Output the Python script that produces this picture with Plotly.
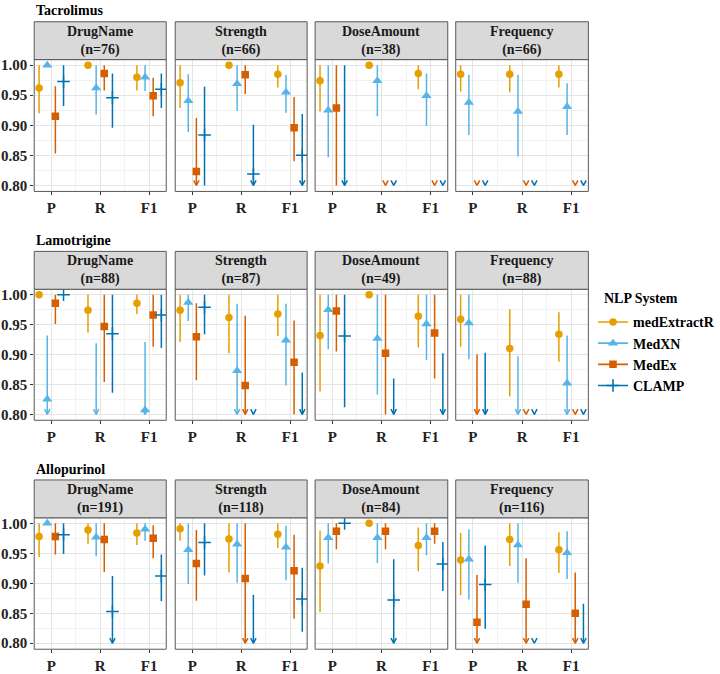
import plotly.graph_objects as go

# ---------------- data ----------------
DRUGS = ["Tacrolimus", "Lamotrigine", "Allopurinol"]
FIELDS = ["DrugName", "Strength", "DoseAmount", "Frequency"]
METRICS = ["P", "R", "F1"]
SYSTEMS = ["medExtractR", "MedXN", "MedEx", "CLAMP"]
N_TAC = [76, 66, 38, 66]
N_LAM = [88, 87, 49, 88]
N_ALL = [191, 118, 84, 116]
Y_TICKS = [0.80, 0.85, 0.90, 0.95, 1.00]
Y_TICK_TEXT = ["0.80", "0.85", "0.90", "0.95", "1.00"]
LEGEND_TITLE = "NLP System"
AXIS_MIN = 0.80  # lower limit of the y scale; values below are shown as arrows

# order of the 12 values: DrugName P,R,F1 | Strength P,R,F1 | DoseAmount P,R,F1 | Frequency P,R,F1
# None = below the 0.80 axis limit
TAC_EST = {
    "medExtractR": [0.962, 1.000, 0.980, 0.971, 1.000, 0.985, 0.974, 1.000, 0.986, 0.985, 0.985, 0.985],
    "MedXN":       [1.000, 0.962, 0.980, 0.941, 0.969, 0.955, 0.925, 0.974, 0.949, 0.938, 0.923, 0.931],
    "MedEx":       [0.915, 0.986, 0.949, 0.823, 0.984, 0.896, 0.929, None, None, None, None, None],
    "CLAMP":       [0.973, 0.946, 0.960, 0.884, 0.819, 0.850, None, None, None, None, None, None],
}
TAC_LO = {
    "medExtractR": [0.920, 1.000, 0.958, 0.929, 1.000, 0.963, 0.923, 1.000, 0.960, 0.956, 0.955, 0.963],
    "MedXN":       [1.000, 0.918, 0.957, 0.889, 0.924, 0.921, 0.847, 0.915, 0.899, 0.884, 0.848, 0.884],
    "MedEx":       [0.853, 0.958, 0.915, None, 0.952, 0.840, 0.800, None, None, None, None, None],
    "CLAMP":       [0.932, 0.896, 0.929, 0.800, None, None, None, None, None, None, None, None],
}
TAC_HI = {
    "medExtractR": [1.000, 1.000, 1.000, 1.000, 1.000, 1.000, 1.000, 1.000, 1.000, 1.000, 1.000, 1.000],
    "MedXN":       [1.000, 1.000, 1.000, 0.985, 1.000, 0.984, 1.000, 1.000, 0.986, 0.984, 0.984, 0.970],
    "MedEx":       [0.965, 1.000, 0.979, 0.912, 1.000, 0.947, 1.000, None, None, None, None, None],
    "CLAMP":       [1.000, 0.986, 0.986, 0.964, 0.901, 0.919, 1.000, None, None, None, None, None],
}

LAM_EST = {
    "medExtractR": [1.000, 0.974, 0.986, 0.974, 0.962, 0.968, 0.932, 1.000, 0.964, 0.959, 0.910, 0.934],
    "MedXN":       [0.825, None, 0.807, 0.987, 0.873, 0.924, 0.975, 0.927, 0.951, 0.953, None, 0.852],
    "MedEx":       [0.986, 0.947, 0.966, 0.930, 0.848, 0.887, 0.973, 0.902, 0.936, None, None, None],
    "CLAMP":       [1.000, 0.935, 0.966, 0.979, None, None, 0.931, None, None, None, None, None],
}
LAM_LO = {
    "medExtractR": [1.000, 0.937, 0.968, 0.921, 0.902, 0.931, 0.838, 1.000, 0.912, 0.913, 0.830, 0.888],
    "MedXN":       [None, None, None, 0.956, None, 0.848, 0.909, 0.833, 0.891, 0.892, None, None],
    "MedEx":       [0.951, 0.854, 0.913, 0.857, None, 0.800, 0.905, 0.800, 0.860, None, None, None],
    "CLAMP":       [1.000, 0.836, 0.911, 0.934, None, None, 0.812, None, None, None, None, None],
}
LAM_HI = {
    "medExtractR": [1.000, 1.000, 1.000, 1.000, 1.000, 1.000, 1.000, 1.000, 1.000, 1.000, 0.976, 0.971],
    "MedXN":       [0.932, 0.919, 0.921, 1.000, 0.985, 0.985, 1.000, 1.000, 1.000, 1.000, 0.897, 0.932],
    "MedEx":       [1.000, 1.000, 1.000, 0.986, 0.965, 0.957, 1.000, 1.000, 1.000, 0.900, None, None],
    "CLAMP":       [1.000, 1.000, 1.000, 1.000, None, 0.870, 1.000, 0.860, 0.902, 0.903, None, None],
}

ALL_EST = {
    "medExtractR": [0.978, 0.989, 0.984, 0.991, 0.974, 0.982, 0.929, 1.000, 0.963, 0.939, 0.973, 0.956],
    "MedXN":       [1.000, 0.977, 0.990, 0.956, 0.965, 0.960, 0.976, 0.976, 0.976, 0.940, 0.964, 0.951],
    "MedEx":       [0.978, 0.973, 0.975, 0.933, 0.908, 0.921, 0.987, 0.987, 0.987, 0.835, 0.865, 0.850],
    "CLAMP":       [0.981, 0.853, 0.912, 0.968, None, 0.874, 1.000, 0.872, 0.932, 0.898, None, None],
}
ALL_LO = {
    "medExtractR": [0.944, 0.966, 0.964, 0.971, 0.918, 0.959, 0.852, 1.000, 0.920, 0.880, 0.929, 0.917],
    "MedXN":       [1.000, 0.945, 0.971, 0.899, 0.901, 0.905, 0.933, 0.934, 0.947, 0.873, 0.901, 0.907],
    "MedEx":       [0.948, 0.919, 0.942, 0.871, None, 0.841, 0.957, 0.957, 0.966, None, None, None],
    "CLAMP":       [0.949, None, 0.870, 0.913, None, 0.819, 1.000, None, 0.887, 0.824, None, None],
}
ALL_HI = {
    "medExtractR": [1.000, 1.000, 1.000, 1.000, 1.000, 1.000, 0.988, 1.000, 0.993, 0.984, 1.000, 0.985],
    "MedXN":       [1.000, 1.000, 1.000, 1.000, 1.000, 0.996, 1.000, 1.000, 1.000, 0.990, 1.000, 0.987],
    "MedEx":       [1.000, 1.000, 0.997, 0.989, 1.000, 0.981, 1.000, 1.000, 1.000, 0.914, 0.942, 0.918],
    "CLAMP":       [1.000, 0.912, 0.948, 1.000, 0.881, 0.926, 1.000, 0.940, 0.969, 0.963, None, 0.866],
}

DRUG_DATA = [
    (N_TAC, TAC_EST, TAC_LO, TAC_HI),
    (N_LAM, LAM_EST, LAM_LO, LAM_HI),
    (N_ALL, ALL_EST, ALL_LO, ALL_HI),
]

# ---------------- style / layout ----------------
W, H = 720, 674
FONT = "Liberation Serif"
COLORS = {"medExtractR": "#E69F00", "MedXN": "#56B4E9", "MedEx": "#D55E00", "CLAMP": "#0072B2"}
SYMBOLS = {"medExtractR": "circle", "MedXN": "triangle-up", "MedEx": "square", "CLAMP": "cross-thin"}
MSIZE = {"medExtractR": 7.5, "MedXN": 9, "MedEx": 7.5, "CLAMP": 9}
DODGE = {"medExtractR": -0.25, "MedXN": -0.083, "MedEx": 0.083, "CLAMP": 0.25}
COL_PX = [(34.3, 166.7), (175.7, 308.0), (316.0, 449.0), (457.0, 590.0)]
ROW_PX = [(58.3, 191.7), (290.7, 423.3), (522.0, 655.0)]
STRIP_H = 38.3
X_RANGE = [0.65, 3.35]
Y_RANGE = [0.790, 1.0093]
ARROW_DX = 0.055
ARROW_DY = 0.0085
BORDER = "#595959"
GRID_MAJOR = "#E5E5E5"
GRID_MINOR = "#F2F2F2"

fig = go.Figure()
annotations = []
shapes = []

for r in range(3):
    nvals, est, lo, hi = DRUG_DATA[r]
    for c in range(4):
        k = r * 4 + c + 1
        xa = "x" if k == 1 else f"x{k}"
        ya = "y" if k == 1 else f"y{k}"
        xname = "xaxis" if k == 1 else f"xaxis{k}"
        yname = "yaxis" if k == 1 else f"yaxis{k}"
        x0, x1 = COL_PX[c]
        y0, y1 = ROW_PX[r]
        fig.layout[xname] = dict(
            domain=[x0 / W, x1 / W], anchor=ya, range=X_RANGE,
            tickvals=[1, 2, 3], ticktext=[f"<b>{t}</b>" for t in METRICS],
            showgrid=True, gridcolor=GRID_MAJOR, gridwidth=1.2,
            minor=dict(tickvals=[1.5, 2.5], showgrid=True, gridcolor=GRID_MINOR, gridwidth=0.6),
            ticks="outside", ticklen=3, tickcolor="#333333", zeroline=False, showline=False,
            tickfont=dict(family=FONT, size=15, color="#222222"), fixedrange=True,
        )
        fig.layout[yname] = dict(
            domain=[1 - y1 / H, 1 - y0 / H], anchor=xa, range=Y_RANGE,
            tickvals=Y_TICKS, ticktext=[f"<b>{t}</b>" for t in Y_TICK_TEXT], showticklabels=(c == 0),
            ticks="outside" if c == 0 else "", ticklen=3, tickcolor="#333333",
            showgrid=True, gridcolor=GRID_MAJOR, gridwidth=1.2,
            minor=dict(tickvals=[0.825, 0.875, 0.925, 0.975], showgrid=True, gridcolor=GRID_MINOR, gridwidth=0.6),
            zeroline=False, showline=False,
            tickfont=dict(family=FONT, size=15, color="#222222"), fixedrange=True,
        )
        # panel border
        shapes.append(dict(type="rect", xref="paper", yref="paper",
                           x0=x0 / W, x1=x1 / W, y0=1 - y1 / H, y1=1 - y0 / H,
                           line=dict(color=BORDER, width=1), fillcolor="rgba(0,0,0,0)", layer="above"))
        # strip
        shapes.append(dict(type="rect", xref="paper", yref="paper",
                           x0=x0 / W, x1=x1 / W, y0=1 - y0 / H, y1=1 - (y0 - STRIP_H) / H,
                           line=dict(color=BORDER, width=1), fillcolor="#D9D9D9", layer="above"))
        annotations.append(dict(
            xref="paper", yref="paper", x=(x0 + x1) / 2 / W, y=1 - (y0 - STRIP_H / 2) / H,
            text=f"<b>{FIELDS[c]}<br>(n={nvals[c]})</b>", showarrow=False,
            xanchor="center", yanchor="middle", align="center",
            font=dict(family=FONT, size=14, color="#1a1a1a")))

        sl = slice(c * 3, c * 3 + 3)
        # error bar lines and arrows
        for s in SYSTEMS:
            l_v, h_v = lo[s][sl], hi[s][sl]
            lx, ly, ax, ay = [], [], [], []
            for m in range(3):
                xp = m + 1 + DODGE[s]
                lv, hv = l_v[m], h_v[m]
                bottom = lv if lv is not None else AXIS_MIN
                if hv is not None and hv > bottom:
                    lx += [xp, xp, None]
                    ly += [hv, bottom, None]
                if lv is None:
                    ax += [xp - ARROW_DX, xp, xp + ARROW_DX, None]
                    ay += [AXIS_MIN + ARROW_DY, AXIS_MIN, AXIS_MIN + ARROW_DY, None]
            if lx:
                fig.add_trace(go.Scatter(x=lx, y=ly, xaxis=xa, yaxis=ya, mode="lines",
                                         line=dict(color=COLORS[s], width=1.5),
                                         showlegend=False, hoverinfo="skip", cliponaxis=False))
            if ax:
                fig.add_trace(go.Scatter(x=ax, y=ay, xaxis=xa, yaxis=ya, mode="lines",
                                         line=dict(color=COLORS[s], width=1.5),
                                         showlegend=False, hoverinfo="skip", cliponaxis=False))
        # points
        for s in SYSTEMS:
            e_v = est[s][sl]
            px = [m + 1 + DODGE[s] for m in range(3) if e_v[m] is not None]
            py = [e_v[m] for m in range(3) if e_v[m] is not None]
            if px:
                fig.add_trace(go.Scatter(
                    x=px, y=py, xaxis=xa, yaxis=ya, mode="markers",
                    marker=dict(symbol=SYMBOLS[s], size=MSIZE[s], color=COLORS[s],
                                line=dict(color=COLORS[s], width=1.5 if s == "CLAMP" else 0)),
                    showlegend=False, name=s))

    # drug title
    annotations.append(dict(
        xref="paper", yref="paper", x=COL_PX[0][0] / W, y=1 - (ROW_PX[r][0] - STRIP_H - 11) / H,
        text=f"<b>{DRUGS[r]}</b>", showarrow=False, xanchor="left", yanchor="middle",
        font=dict(family=FONT, size=14, color="#000000")))

# legend title (as text, aligned like the reference)
annotations.append(dict(
    xref="paper", yref="paper", x=604 / W, y=1 - 300 / H, text=f"<b>{LEGEND_TITLE}</b>",
    showarrow=False, xanchor="left", yanchor="middle",
    font=dict(family=FONT, size=14, color="#000000")))

# legend entries
for s in SYSTEMS:
    fig.add_trace(go.Scatter(
        x=[None], y=[None], xaxis="x", yaxis="y", mode="lines+markers", name=f"<b>{s}</b>",
        line=dict(color=COLORS[s], width=1.6),
        marker=dict(symbol=SYMBOLS[s], size=MSIZE[s], color=COLORS[s],
                    line=dict(color=COLORS[s], width=1.6 if s == "CLAMP" else 0)),
        showlegend=True))

fig.update_layout(
    width=W, height=H, autosize=False,
    margin=dict(l=0, r=0, t=0, b=0),
    paper_bgcolor="white", plot_bgcolor="white",
    font=dict(family=FONT, size=14, color="#000000"),
    annotations=annotations, shapes=shapes,
    legend=dict(
        x=0.826, y=1 - 308 / H, xanchor="left", yanchor="top",
        font=dict(family=FONT, size=14, color="#000000"),
        bgcolor="rgba(0,0,0,0)", itemwidth=30, tracegroupgap=0,
    ),
)

fig.write_html("out.html", config={"displayModeBar": False},
               post_script="document.body.style.margin='0px';document.body.style.overflow='hidden';")
